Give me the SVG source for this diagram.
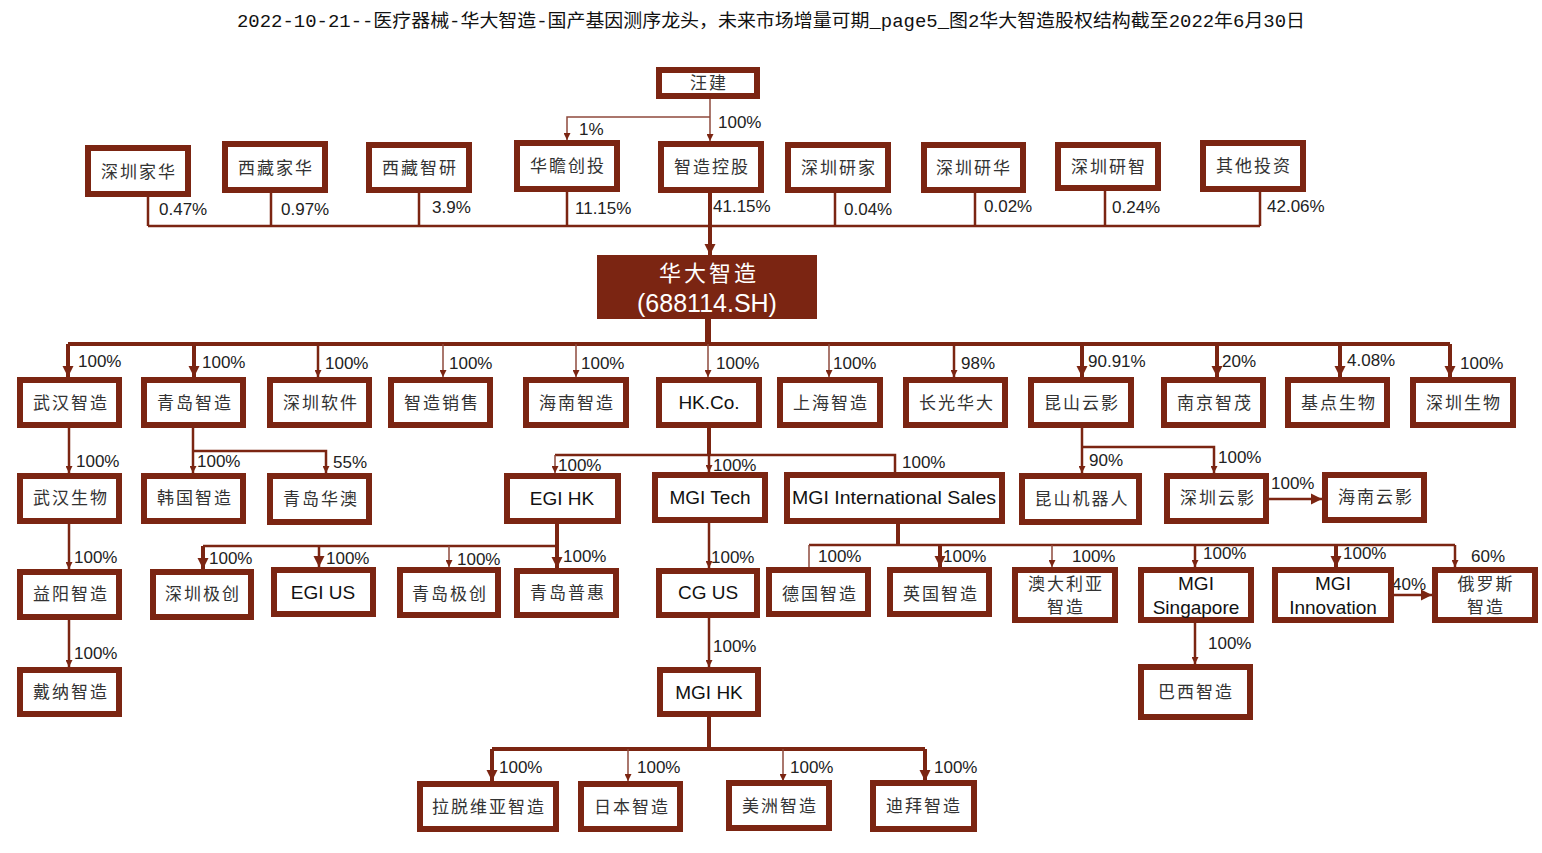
<svg xmlns="http://www.w3.org/2000/svg" width="1542" height="853" viewBox="0 0 1542 853">
<style>
.b{fill:#fff;stroke:#7b2512;stroke-width:6}
.t{font-family:"Noto Sans CJK SC",sans-serif;font-size:17px;fill:#333;letter-spacing:2px;text-anchor:middle}
.e{font-family:"Liberation Sans",Arial,sans-serif;font-size:19px;fill:#111;text-anchor:middle}
.p{font-family:"Liberation Sans",Arial,sans-serif;font-size:17px;fill:#222}
.c{fill:none;stroke:#7b2512}
.w1{stroke-width:1.5;stroke:#8e4a3c}
.w2{stroke-width:2.5}
.w3{stroke-width:4}
</style>
<defs>
<marker id="a" viewBox="0 0 10 10" refX="10" refY="5" markerWidth="8" markerHeight="7" markerUnits="userSpaceOnUse" orient="auto"><path d="M0,0L10,5L0,10z" fill="#7b2512"/></marker>
<marker id="A" viewBox="0 0 10 10" refX="10" refY="5" markerWidth="11" markerHeight="14" markerUnits="userSpaceOnUse" orient="auto"><path d="M0,0L10,5L0,10z" fill="#7b2512"/></marker>
</defs>
<rect width="1542" height="853" fill="#fff"/>
<text x="771" y="27" text-anchor="middle" textLength="1068" lengthAdjust="spacingAndGlyphs" style="font-family:'Liberation Mono','Noto Sans CJK SC',monospace;font-size:18px;fill:#111">2022-10-21--医疗器械-华大智造-国产基因测序龙头，未来市场增量可期_page5_图2华大智造股权结构截至2022年6月30日</text>

<g id="connectors">
<!-- 汪建 -->
<path class="c w1" d="M710,99V141" marker-end="url(#a)"/>
<path class="c w1" d="M710,117H567V140" marker-end="url(#a)"/>
<!-- shareholders -->
<path class="c w2" d="M148,197V226M271,193V226M419,193V226M567,192V226M835,193V226M975,193V226M1105,191V226M1260,192V226M148,226H1260"/>
<path class="c w3" d="M710,193V255" marker-end="url(#A)"/>
<!-- main bus -->
<path class="c" stroke-width="6" d="M708,319V344"/>
<path class="c w3" d="M68,344H1450"/>
<path class="c w3" d="M68,344V377" marker-end="url(#A)"/>
<path class="c w3" d="M194,344V377" marker-end="url(#A)"/>
<path class="c w2" d="M318,344V377" marker-end="url(#a)"/>
<path class="c w1" d="M443,344V377" marker-end="url(#a)"/>
<path class="c w1" d="M576,344V377" marker-end="url(#a)"/>
<path class="c w1" d="M708,344V377" marker-end="url(#a)"/>
<path class="c w1" d="M829,344V377" marker-end="url(#a)"/>
<path class="c w2" d="M954,344V377" marker-end="url(#a)"/>
<path class="c w3" d="M1082,344V377" marker-end="url(#A)"/>
<path class="c w3" d="M1217,344V377" marker-end="url(#A)"/>
<path class="c w3" d="M1340,344V377" marker-end="url(#A)"/>
<path class="c w3" d="M1450,344V377" marker-end="url(#A)"/>
<!-- row1 -> row2 -->
<path class="c w2" d="M69,428V473" marker-end="url(#a)"/>
<path class="c w2" d="M193,428V473" marker-end="url(#a)"/>
<path class="c w2" d="M193,451H326V473" marker-end="url(#a)"/>
<path class="c w3" d="M709,428V455"/>
<path class="c w2" d="M555,455H895V472"/>
<path class="c w1" d="M555,455V473" marker-end="url(#a)"/>
<path class="c w2" d="M709,455V472" marker-end="url(#a)"/>
<path class="c w2" d="M1082,428V473" marker-end="url(#a)"/>
<path class="c w2" d="M1082,447H1214V473" marker-end="url(#a)"/>
<path class="c w2" d="M1269,499H1322" marker-end="url(#A)"/>
<!-- row2 -> row3 -->
<path class="c w2" d="M69,524V569" marker-end="url(#a)"/>
<path class="c w3" d="M557,524V568" marker-end="url(#A)"/>
<path class="c w2" d="M203,546H557"/>
<path class="c w3" d="M203,546V569" marker-end="url(#A)"/>
<path class="c w2" d="M319,546V567" marker-end="url(#A)"/>
<path class="c w1" d="M449,546V567" marker-end="url(#a)"/>
<path class="c w2" d="M709,523V568" marker-end="url(#a)"/>
<path class="c w3" d="M898,524V545"/>
<path class="c w2" d="M809,545H1455"/>
<path class="c w1" d="M809,545V567"/>
<path class="c w3" d="M940,545V567" marker-end="url(#A)"/>
<path class="c w1" d="M1052,545V567" marker-end="url(#a)"/>
<path class="c w2" d="M1195,545V567" marker-end="url(#a)"/>
<path class="c w3" d="M1336,545V567" marker-end="url(#A)"/>
<path class="c w2" d="M1455,545V567" marker-end="url(#a)"/>
<path class="c w2" d="M1394,595H1432" marker-end="url(#A)"/>
<!-- row3 -> row4 -->
<path class="c w2" d="M69,620V667" marker-end="url(#a)"/>
<path class="c w2" d="M709,618V667" marker-end="url(#a)"/>
<path class="c w2" d="M1195,623V664" marker-end="url(#a)"/>
<!-- row4 -> row5 -->
<path class="c w3" d="M709,717V749"/>
<path class="c w3" d="M492,749H925"/>
<path class="c w3" d="M492,749V781" marker-end="url(#A)"/>
<path class="c w1" d="M628,749V781" marker-end="url(#a)"/>
<path class="c w1" d="M783,749V781" marker-end="url(#a)"/>
<path class="c w3" d="M925,749V781" marker-end="url(#A)"/>
</g>

<g id="labels">
<text class="p" x="718" y="128">100%</text>
<text class="p" x="579" y="135">1%</text>
<text class="p" x="159" y="215">0.47%</text>
<text class="p" x="281" y="215">0.97%</text>
<text class="p" x="432" y="213">3.9%</text>
<text class="p" x="575" y="214">11.15%</text>
<text class="p" x="713" y="212">41.15%</text>
<text class="p" x="844" y="215">0.04%</text>
<text class="p" x="984" y="212">0.02%</text>
<text class="p" x="1112" y="213">0.24%</text>
<text class="p" x="1267" y="212">42.06%</text>
<text class="p" x="78" y="367">100%</text>
<text class="p" x="202" y="368">100%</text>
<text class="p" x="325" y="369">100%</text>
<text class="p" x="449" y="369">100%</text>
<text class="p" x="581" y="369">100%</text>
<text class="p" x="716" y="369">100%</text>
<text class="p" x="833" y="369">100%</text>
<text class="p" x="961" y="369">98%</text>
<text class="p" x="1088" y="367">90.91%</text>
<text class="p" x="1222" y="367">20%</text>
<text class="p" x="1347" y="366">4.08%</text>
<text class="p" x="1460" y="369">100%</text>
<text class="p" x="76" y="467">100%</text>
<text class="p" x="197" y="467">100%</text>
<text class="p" x="333" y="468">55%</text>
<text class="p" x="558" y="471">100%</text>
<text class="p" x="713" y="471">100%</text>
<text class="p" x="902" y="468">100%</text>
<text class="p" x="1089" y="466">90%</text>
<text class="p" x="1218" y="463">100%</text>
<text class="p" x="1271" y="489">100%</text>
<text class="p" x="74" y="563">100%</text>
<text class="p" x="209" y="564">100%</text>
<text class="p" x="326" y="564">100%</text>
<text class="p" x="457" y="565">100%</text>
<text class="p" x="563" y="562">100%</text>
<text class="p" x="711" y="563">100%</text>
<text class="p" x="818" y="562">100%</text>
<text class="p" x="943" y="562">100%</text>
<text class="p" x="1072" y="562">100%</text>
<text class="p" x="1203" y="559">100%</text>
<text class="p" x="1343" y="559">100%</text>
<text class="p" x="1471" y="562">60%</text>
<text class="p" x="1392" y="590">40%</text>
<text class="p" x="74" y="659">100%</text>
<text class="p" x="713" y="652">100%</text>
<text class="p" x="1208" y="649">100%</text>
<text class="p" x="499" y="773">100%</text>
<text class="p" x="637" y="773">100%</text>
<text class="p" x="790" y="773">100%</text>
<text class="p" x="934" y="773">100%</text>
</g>

<g id="n-wangjian"><rect class="b" x="659" y="70" width="98" height="26"/><text class="t" x="709" y="89">汪建</text></g>
<g id="n-szjh"><rect class="b" x="88" y="148" width="100" height="46"/><text class="t" x="139" y="178">深圳家华</text></g>
<g id="n-xzjh"><rect class="b" x="225" y="144" width="100" height="46"/><text class="t" x="276" y="174">西藏家华</text></g>
<g id="n-xzzy"><rect class="b" x="369" y="145" width="100" height="45"/><text class="t" x="420" y="174">西藏智研</text></g>
<g id="n-hzct"><rect class="b" x="517" y="143" width="100" height="46"/><text class="t" x="568" y="172">华瞻创投</text></g>
<g id="n-zzkg"><rect class="b" x="661" y="144" width="100" height="46"/><text class="t" x="712" y="173">智造控股</text></g>
<g id="n-szyj"><rect class="b" x="788" y="145" width="100" height="45"/><text class="t" x="839" y="174">深圳研家</text></g>
<g id="n-szyh"><rect class="b" x="924" y="145" width="99" height="45"/><text class="t" x="974" y="174">深圳研华</text></g>
<g id="n-szyz"><rect class="b" x="1058" y="145" width="100" height="43"/><text class="t" x="1109" y="173">深圳研智</text></g>
<g id="n-qtts"><rect class="b" x="1203" y="143" width="100" height="46"/><text class="t" x="1254" y="172">其他投资</text></g>

<g id="n-hdzz"><rect x="597" y="255" width="220" height="64" fill="#7b2512"/><text x="709" y="281" text-anchor="middle" style="font-family:'Noto Sans CJK SC',sans-serif;font-size:22px;letter-spacing:3px;fill:#fff">华大智造</text><text x="707" y="312" text-anchor="middle" style="font-family:'Liberation Sans',Arial,sans-serif;font-size:25px;fill:#fff">(688114.SH)</text></g>

<g id="n-whzz"><rect class="b" x="20" y="380" width="99" height="45"/><text class="t" x="71" y="409">武汉智造</text></g>
<g id="n-qdzz"><rect class="b" x="144" y="380" width="99" height="45"/><text class="t" x="195" y="409">青岛智造</text></g>
<g id="n-szrj"><rect class="b" x="270" y="380" width="99" height="45"/><text class="t" x="321" y="409">深圳软件</text></g>
<g id="n-zzxs"><rect class="b" x="391" y="380" width="99" height="45"/><text class="t" x="442" y="409">智造销售</text></g>
<g id="n-hnzz"><rect class="b" x="526" y="380" width="100" height="45"/><text class="t" x="577" y="409">海南智造</text></g>
<g id="n-hkco"><rect class="b" x="659" y="380" width="100" height="45"/><text class="e" x="709" y="409">HK.Co.</text></g>
<g id="n-shzz"><rect class="b" x="780" y="380" width="100" height="45"/><text class="t" x="831" y="409">上海智造</text></g>
<g id="n-cghd"><rect class="b" x="906" y="380" width="99" height="45"/><text class="t" x="957" y="409">长光华大</text></g>
<g id="n-ksyy"><rect class="b" x="1031" y="380" width="100" height="45"/><text class="t" x="1082" y="409">昆山云影</text></g>
<g id="n-njzm"><rect class="b" x="1164" y="380" width="99" height="45"/><text class="t" x="1215" y="409">南京智茂</text></g>
<g id="n-jdsw"><rect class="b" x="1288" y="380" width="99" height="45"/><text class="t" x="1339" y="409">基点生物</text></g>
<g id="n-szsw"><rect class="b" x="1413" y="380" width="100" height="45"/><text class="t" x="1464" y="409">深圳生物</text></g>

<g id="n-whsw"><rect class="b" x="20" y="476" width="99" height="45"/><text class="t" x="71" y="504">武汉生物</text></g>
<g id="n-hgzz"><rect class="b" x="144" y="476" width="99" height="45"/><text class="t" x="195" y="504">韩国智造</text></g>
<g id="n-qdha"><rect class="b" x="270" y="476" width="99" height="46"/><text class="t" x="321" y="505">青岛华澳</text></g>
<g id="n-egihk"><rect class="b" x="507" y="476" width="111" height="45"/><text class="e" x="562" y="505">EGI HK</text></g>
<g id="n-mgitech"><rect class="b" x="655" y="475" width="110" height="45"/><text class="e" x="710" y="504">MGI Tech</text></g>
<g id="n-mgiis"><rect class="b" x="787" y="475" width="215" height="46"/><text class="e" x="894" y="504" textLength="204" lengthAdjust="spacingAndGlyphs">MGI International Sales</text></g>
<g id="n-ksjqr"><rect class="b" x="1022" y="476" width="117" height="46"/><text class="t" x="1082" y="505">昆山机器人</text></g>
<g id="n-szyy"><rect class="b" x="1167" y="476" width="99" height="45"/><text class="t" x="1218" y="504">深圳云影</text></g>
<g id="n-hnyy"><rect class="b" x="1325" y="475" width="99" height="45"/><text class="t" x="1376" y="503">海南云影</text></g>

<g id="n-yyzz"><rect class="b" x="20" y="572" width="99" height="45"/><text class="t" x="71" y="600">益阳智造</text></g>
<g id="n-szjc"><rect class="b" x="153" y="572" width="98" height="45"/><text class="t" x="203" y="600">深圳极创</text></g>
<g id="n-egius"><rect class="b" x="274" y="570" width="99" height="44"/><text class="e" x="323" y="599">EGI US</text></g>
<g id="n-qdjc"><rect class="b" x="400" y="570" width="98" height="45"/><text class="t" x="450" y="600">青岛极创</text></g>
<g id="n-qdph"><rect class="b" x="517" y="571" width="99" height="44"/><text class="t" x="568" y="599">青岛普惠</text></g>
<g id="n-cgus"><rect class="b" x="659" y="571" width="98" height="44"/><text class="e" x="708" y="599">CG US</text></g>
<g id="n-dgzz"><rect class="b" x="769" y="570" width="99" height="44"/><text class="t" x="820" y="600">德国智造</text></g>
<g id="n-ygzz"><rect class="b" x="890" y="570" width="99" height="44"/><text class="t" x="941" y="600">英国智造</text></g>
<g id="n-adlyzz"><rect class="b" x="1015" y="570" width="100" height="50"/><text class="t" x="1066" y="590">澳大利亚</text><text class="t" x="1066" y="613">智造</text></g>
<g id="n-mgisg"><rect class="b" x="1141" y="570" width="110" height="50"/><text class="e" x="1196" y="590">MGI</text><text class="e" x="1196" y="614">Singapore</text></g>
<g id="n-mgiinn"><rect class="b" x="1275" y="570" width="116" height="50"/><text class="e" x="1333" y="590">MGI</text><text class="e" x="1333" y="614">Innovation</text></g>
<g id="n-elszz"><rect class="b" x="1435" y="570" width="100" height="50"/><text class="t" x="1486" y="590">俄罗斯</text><text class="t" x="1486" y="613">智造</text></g>

<g id="n-dnzz"><rect class="b" x="20" y="670" width="99" height="44"/><text class="t" x="71" y="698">戴纳智造</text></g>
<g id="n-mgihk"><rect class="b" x="660" y="670" width="98" height="44"/><text class="e" x="709" y="699">MGI HK</text></g>
<g id="n-bxzz"><rect class="b" x="1141" y="667" width="109" height="50"/><text class="t" x="1196" y="698">巴西智造</text></g>

<g id="n-ltwyzz"><rect class="b" x="420" y="784" width="136" height="45"/><text class="t" x="489" y="813">拉脱维亚智造</text></g>
<g id="n-rbzz"><rect class="b" x="581" y="784" width="99" height="45"/><text class="t" x="632" y="813">日本智造</text></g>
<g id="n-mzzz"><rect class="b" x="729" y="783" width="100" height="45"/><text class="t" x="780" y="812">美洲智造</text></g>
<g id="n-dbzz"><rect class="b" x="873" y="783" width="101" height="46"/><text class="t" x="924" y="812">迪拜智造</text></g>
</svg>
